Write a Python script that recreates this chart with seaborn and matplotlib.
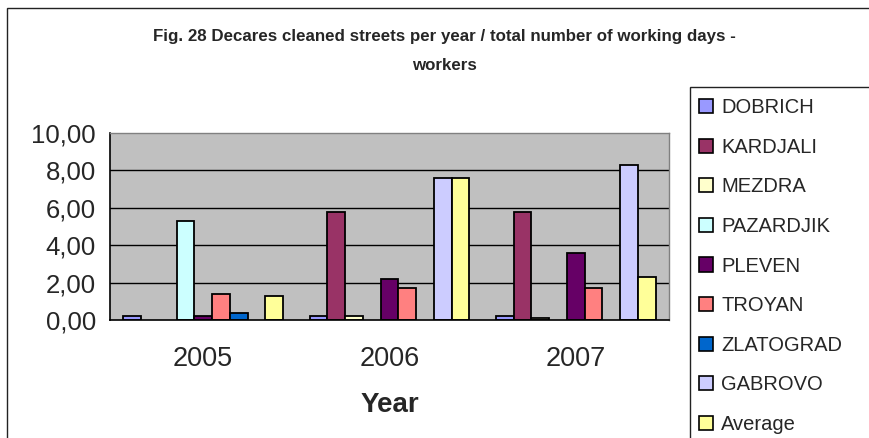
import numpy as np
import pandas as pd
import matplotlib
matplotlib.use('Agg')
import matplotlib.pyplot as plt
import matplotlib as mpl
import seaborn as sns

years = ['2005', '2006', '2007']
cities = ['DOBRICH', 'KARDJALI', 'MEZDRA', 'PAZARDJIK', 'PLEVEN',
          'TROYAN', 'ZLATOGRAD', 'GABROVO', 'Average']
colors = ['#9999FF', '#993366', '#FFFFCC', '#CCFFFF', '#660066',
          '#FF8080', '#0066CC', '#CCCCFF', '#FFFF99']

dobrich   = [0.2, 0.2, 0.2]
kardjali  = [np.nan, 5.8, 5.8]
mezdra    = [np.nan, 0.2, 0.1]
pazardjik = [5.3, np.nan, np.nan]
pleven    = [0.2, 2.2, 3.6]
troyan    = [1.4, 1.7, 1.7]
zlatograd = [0.4, np.nan, np.nan]
gabrovo   = [np.nan, 7.6, 8.3]
average   = [1.3, 7.6, 2.3]

y_ticks = [0, 2, 4, 6, 8, 10]
title = 'Fig. 28 Decares cleaned streets per year / total number of working days -\nworkers'

series = [dobrich, kardjali, mezdra, pazardjik, pleven, troyan, zlatograd, gabrovo, average]
rows = []
for city, vals in zip(cities, series):
    for yr, v in zip(years, vals):
        rows.append({'Year': yr, 'City': city, 'Value': v})
df = pd.DataFrame(rows).dropna()

sns.set_style('white')
plt.rcParams['font.family'] = ['Liberation Sans', 'DejaVu Sans']

W, H = 869, 438
fig = plt.figure(figsize=(W / 100, H / 100), dpi=100)
fig.patch.set_facecolor('white')

# chart area border (runs past the right/bottom edge)
fig.patches.append(mpl.patches.Rectangle((7 / W, -0.1), 1.2, 1 - 8 / H + 0.1,
                                         transform=fig.transFigure, fill=False,
                                         edgecolor='#222222', lw=1.0))

left, right, top, bot = 110, 669, 133, 320
ax = fig.add_axes([left / W, 1 - bot / H, (right - left) / W, (bot - top) / H])
ax.set_facecolor('#C0C0C0')

sns.barplot(data=df, x='Year', y='Value', hue='City', order=years, hue_order=cities,
            palette=dict(zip(cities, colors)), saturation=1, edgecolor='black',
            linewidth=1.3, width=9 / 10.5, legend=False, errorbar=None, ax=ax, zorder=3)

ax.set_xlim(-0.5, 2.5)
ax.set_ylim(0, 10)
ax.set_yticks(y_ticks)
ax.set_yticklabels([f'{v:.2f}'.replace('.', ',') for v in y_ticks], fontsize=18.5)
for v in y_ticks[1:-1]:
    ax.axhline(v, color='black', lw=1.0, zorder=1)

ax.set_xticks([-0.5, 0.5, 1.5, 2.5], minor=True)
ax.tick_params(axis='x', which='minor', length=7, width=1, color='black', direction='out')
ax.tick_params(axis='x', which='major', length=0, pad=19, labelsize=19.5)
ax.tick_params(axis='y', length=8, width=1, color='black', direction='out', pad=2)

for s in ['left', 'bottom']:
    ax.spines[s].set_color('black')
    ax.spines[s].set_linewidth(1.2)
for s in ['top', 'right']:
    ax.spines[s].set_color('#808080')
    ax.spines[s].set_linewidth(1.0)
ax.spines['bottom'].set_zorder(4)

ax.set_xlabel('Year', fontsize=20, fontweight='bold', labelpad=14)
ax.set_ylabel('')

fig.text(444 / W, 1 - 51 / H, title, ha='center', va='center',
         fontsize=12.2, fontweight='bold', linespacing=2.15)

# legend box
fig.patches.append(mpl.patches.Rectangle((690 / W, -0.1), 0.5, 1 - 87 / H + 0.1,
                                         transform=fig.transFigure, fill=False,
                                         edgecolor='#222222', lw=1.0))
handles = [mpl.patches.Patch(facecolor=c, edgecolor='black', lw=1.2) for c in colors]
fig.legend(handles, cities, loc='upper left', bbox_to_anchor=(699 / W, 1 - 98 / H),
           frameon=False, fontsize=14.5, handlelength=0.7, handleheight=0.7,
           handletextpad=0.4, labelspacing=1.025, borderaxespad=0, borderpad=0)

fig.savefig('out.png', dpi=100)
